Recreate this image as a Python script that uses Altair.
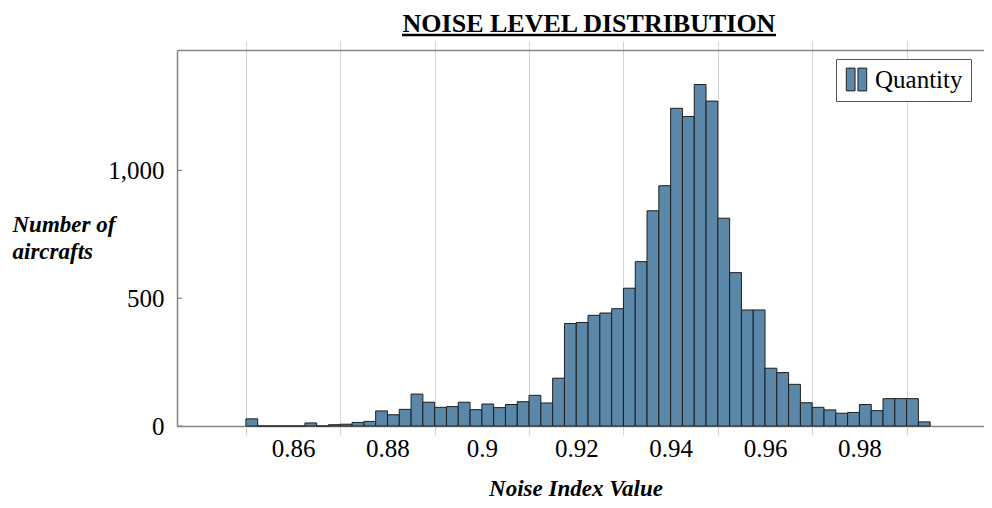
import altair as alt
import pandas as pd

# ---- data ----
BIN_START = 0.85
BIN_WIDTH = 0.0025
counts = [28, 0, 0, 0, 0, 12, 0, 5, 7, 14,
          18, 59, 44, 65, 125, 93, 73, 76, 93, 64,
          86, 72, 84, 95, 120, 90, 187, 401, 405, 433,
          442, 459, 539, 643, 842, 940, 1243, 1211, 1336, 1271,
          813, 600, 454, 454, 226, 209, 163, 91, 73, 63,
          50, 53, 84, 60, 107, 107, 107, 16]
series_name = "Quantity"
chart_title = "NOISE LEVEL DISTRIBUTION"
x_tick_values = [round(0.85 + k * 0.01, 2) for k in range(15)]   # 0.85 ... 0.99
x_grid_values = [v for v in x_tick_values if round(v * 100) % 2 == 1]
y_tick_values = [0, 500, 1000]

starts = [round(BIN_START + i * BIN_WIDTH, 4) for i in range(len(counts))]
ends = [round(s + BIN_WIDTH, 4) for s in starts]
df = pd.DataFrame({"start": starts, "end": ends, "count": counts,
                   "series": [series_name] * len(counts)})
ytick_df = pd.DataFrame({"v": y_tick_values})
title_df = pd.DataFrame({"t": [chart_title]})

# ---- styling ----
SERIF = "Liberation Serif"
BAR_FILL = "#5b87a8"
GRID = "#d4d4d4"
AXIS = "#858585"

W, H = 807, 376
xscale = alt.Scale(domain=[0.8354, 1.0064], nice=False, zero=False)
yscale = alt.Scale(domain=[0, 1471], nice=False, zero=True)

odd_test = "round(datum.value*100) % 2 == 1"

bottom_axis = alt.Axis(
    values=x_tick_values,
    format="~g",
    labelExpr="round(datum.value*100) % 2 == 0 ? datum.label : ''",
    labelOverlap=False, labelFlush=False,
    labelFont=SERIF, labelFontSize=25, labelColor="black", labelPadding=1,
    tickSize=9, tickColor=GRID,
    tickOpacity={"condition": {"test": odd_test, "value": 1}, "value": 0},
    grid=True, gridColor=GRID, gridWidth=1,
    gridOpacity={"condition": {"test": odd_test, "value": 1}, "value": 0},
    domainColor=AXIS, domainWidth=1.5,
    title="Noise Index Value", titleFont=SERIF, titleFontSize=23,
    titleFontStyle="italic", titleFontWeight="bold", titleColor="black",
    titleX=398.5, titleY=69, titleAlign="center", titleBaseline="alphabetic",
    orient="bottom",
)

top_axis = alt.Axis(
    values=x_grid_values, labels=False, grid=False,
    tickSize=9, tickColor=GRID, domainColor=AXIS, domainWidth=1.5,
    title=None, orient="top",
)

y_axis = alt.Axis(
    values=y_tick_values, format=",.0f", ticks=False, grid=False,
    labelFont=SERIF, labelFontSize=25, labelColor="black", labelPadding=13,
    domainColor=AXIS, domainWidth=1.5,
    title=["Number of", "aircrafts"], titleFont=SERIF, titleFontSize=23,
    titleFontStyle="italic", titleFontWeight="bold", titleColor="black",
    titleAngle=0, titleAlign="left", titleBaseline="alphabetic",
    titleX=-165, titleY=181, titleLineHeight=27,
)

legend = alt.Legend(
    title=None, orient="none", legendX=659, legendY=9,
    padding=8, strokeColor="#555555", fillColor="white", cornerRadius=0,
    symbolType="M-0.85,-0.95H-0.12V0.95H-0.85Z M0.12,-0.95H0.85V0.95H0.12Z",
    symbolSize=576, symbolStrokeColor="#222222", symbolStrokeWidth=1,
    symbolOpacity=1,
    labelFont=SERIF, labelFontSize=25, labelColor="black", labelOffset=6,
)

bars = alt.Chart(df).mark_bar(stroke="#1e1e1e", strokeWidth=1, opacity=1).encode(
    x=alt.X("start:Q", scale=xscale, axis=bottom_axis),
    x2="end:Q",
    y=alt.Y("count:Q", scale=yscale, axis=y_axis),
    y2=alt.datum(0),
    color=alt.Color("series:N", scale=alt.Scale(range=[BAR_FILL]), legend=legend),
)

top = alt.Chart(df).mark_rule(opacity=0).encode(
    x=alt.X("start:Q", scale=xscale, axis=top_axis),
)

yticks = alt.Chart(ytick_df).mark_rule(color=AXIS, strokeWidth=1.2).encode(
    y=alt.Y("v:Q", scale=yscale),
    x=alt.value(0), x2=alt.value(5),
)

title_text = alt.Chart(title_df).mark_text(
    font=SERIF, fontSize=26, fontWeight="bold", color="black",
    align="center", baseline="alphabetic",
).encode(text="t:N", x=alt.value(412), y=alt.value(-18.5))

underline = alt.Chart(title_df).mark_rule(color="black", strokeWidth=2.5).encode(
    x=alt.value(225), x2=alt.value(599), y=alt.value(-15),
)

chart = alt.layer(bars, top, yticks, title_text, underline).resolve_axis(
    x="independent"
).properties(
    width=W, height=H,
    autosize=alt.AutoSizeParams(type="none"),
    padding={"left": 169, "top": 42, "right": 0, "bottom": 74},
    background="white",
).configure_view(stroke=None)

chart.save("out.html", embed_options={"renderer": "svg", "actions": False})
